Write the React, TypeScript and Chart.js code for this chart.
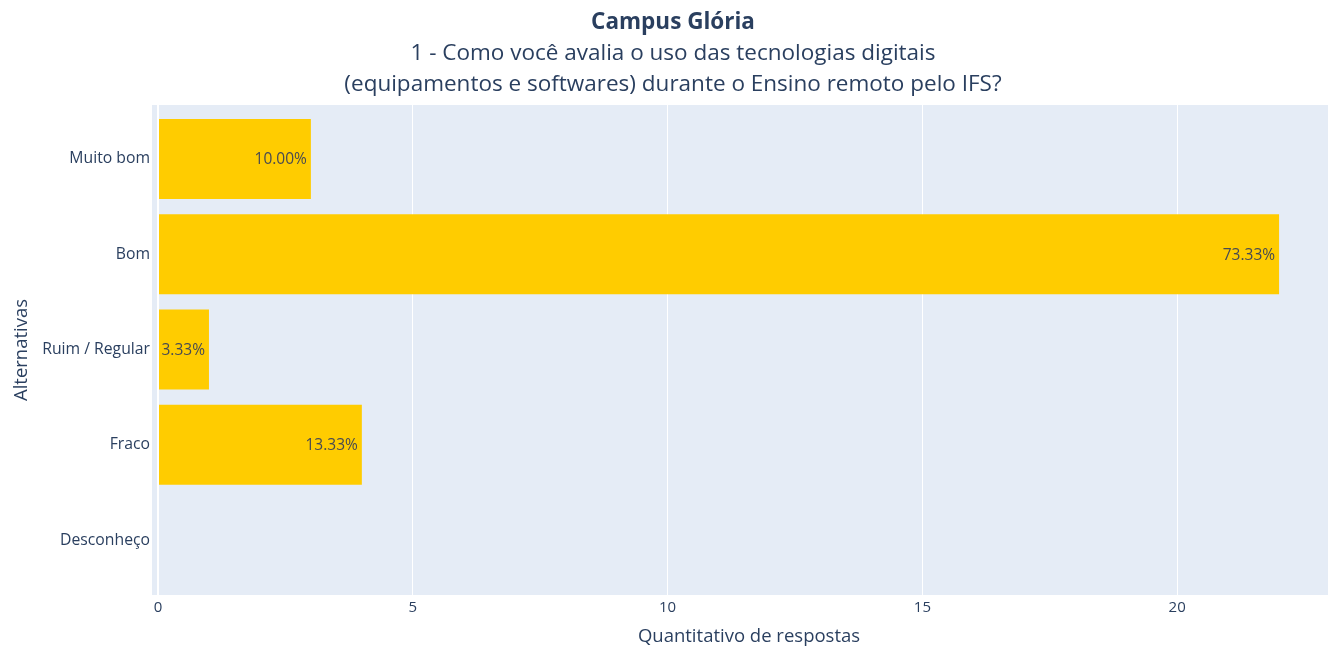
import React, { useEffect, useRef } from "react";
import { Chart, registerables } from "chart.js";

Chart.register(...registerables);

const categories = ["Muito bom", "Bom", "Ruim / Regular", "Fraco", "Desconheço"];
const counts = [3, 22, 1, 4, 0];
const percentLabels = ["10.00%", "73.33%", "3.33%", "13.33%", ""];
const xTicks = [0, 5, 10, 15, 20];

const titleMain = "Campus Glória";
const titleLines = [
  "1 - Como você avalia o uso das tecnologias digitais",
  "(equipamentos e softwares) durante o Ensino remoto pelo IFS?",
];
const xTitle = "Quantitativo de respostas";
const yTitle = "Alternativas";

const FONT = "'Open Sans', 'Noto Sans', sans-serif";
const TEXT = "#2a3f5f";

const decorPlugin = {
  id: "decor",
  beforeDraw(chart: any) {
    const { ctx, chartArea } = chart;
    ctx.save();
    ctx.fillStyle = "#E5ECF6";
    ctx.fillRect(chartArea.left, chartArea.top, chartArea.right - chartArea.left, chartArea.bottom - chartArea.top);
    ctx.restore();
  },
  afterDraw(chart: any) {
    const { ctx, chartArea } = chart;
    ctx.save();
    ctx.fillStyle = TEXT;
    ctx.textAlign = "center";
    ctx.textBaseline = "middle";
    ctx.font = `bold 22.5px ${FONT}`;
    ctx.fillText(titleMain, 673, 23);
    ctx.font = `22.5px ${FONT}`;
    ctx.fillText(titleLines[0], 673, 54);
    ctx.fillText(titleLines[1], 673, 85);

    ctx.font = `18.5px ${FONT}`;
    ctx.fillText(xTitle, 749, 637);
    ctx.save();
    ctx.translate(22, (chartArea.top + chartArea.bottom) / 2);
    ctx.rotate(-Math.PI / 2);
    ctx.fillText(yTitle, 0, 0);
    ctx.restore();

    // bar labels
    const meta = chart.getDatasetMeta(0);
    ctx.font = `15.5px ${FONT}`;
    ctx.fillStyle = "#474a52";
    ctx.textAlign = "right";
    meta.data.forEach((el: any, i: number) => {
      const label = percentLabels[i];
      if (!label) return;
      ctx.fillText(label, el.x - 4, el.y + 1);
    });
    ctx.restore();
  },
};

export default function App() {
  const ref = useRef<HTMLCanvasElement>(null);
  useEffect(() => {
    document.body.style.margin = "0";
    const canvas = ref.current!;
    const chart = new Chart(canvas, {
      type: "bar",
      data: {
        datasets: [
          {
            data: counts.map((c, i) => ({ x: c, y: i })),
            backgroundColor: "#FFCC00",
            borderWidth: 0,
            barPercentage: 0.84,
            categoryPercentage: 1,
          },
        ],
      },
      options: {
        indexAxis: "y",
        responsive: false,
        animation: false,
        layout: { padding: { top: 105, left: 0, right: 0, bottom: 0 } },
        plugins: {
          legend: { display: false },
          tooltip: { enabled: false },
          title: { display: false },
        },
        scales: {
          x: {
            type: "linear",
            min: -0.118,
            max: 22.96,
            offset: false,
            afterBuildTicks: (scale: any) => {
              scale.ticks = xTicks.map((v) => ({ value: v }));
            },
            afterFit: (scale: any) => {
              scale.height = 52;
            },
            grid: {
              color: "#ffffff",
              offset: false,
              lineWidth: (c: any) => (c.tick && c.tick.value === 0 ? 2 : 1),
              drawTicks: false,
            },
            border: { display: false },
            ticks: {
              color: TEXT,
              font: { family: FONT, size: 15 },
              padding: 4,
              callback: (v: any) => String(v),
            },
          },
          y: {
            type: "linear",
            reverse: true,
            offset: false,
            min: -0.567,
            max: 4.577,
            afterBuildTicks: (scale: any) => {
              scale.ticks = categories.map((_, i) => ({ value: i }));
            },
            afterFit: (scale: any) => {
              scale.width = 152;
            },
            grid: { display: false, drawTicks: false, offset: false },
            border: { display: false },
            ticks: {
              color: TEXT,
              font: { family: FONT, size: 15.75 },
              padding: 2,
              callback: (v: any) => categories[v] ?? "",
            },
          },
        },
      },
      plugins: [decorPlugin],
    } as any);
    return () => chart.destroy();
  }, []);
  return (
    <div style={{ width: 1328, height: 647 }}>
      <canvas ref={ref} width={1328} height={647} />
    </div>
  );
}
